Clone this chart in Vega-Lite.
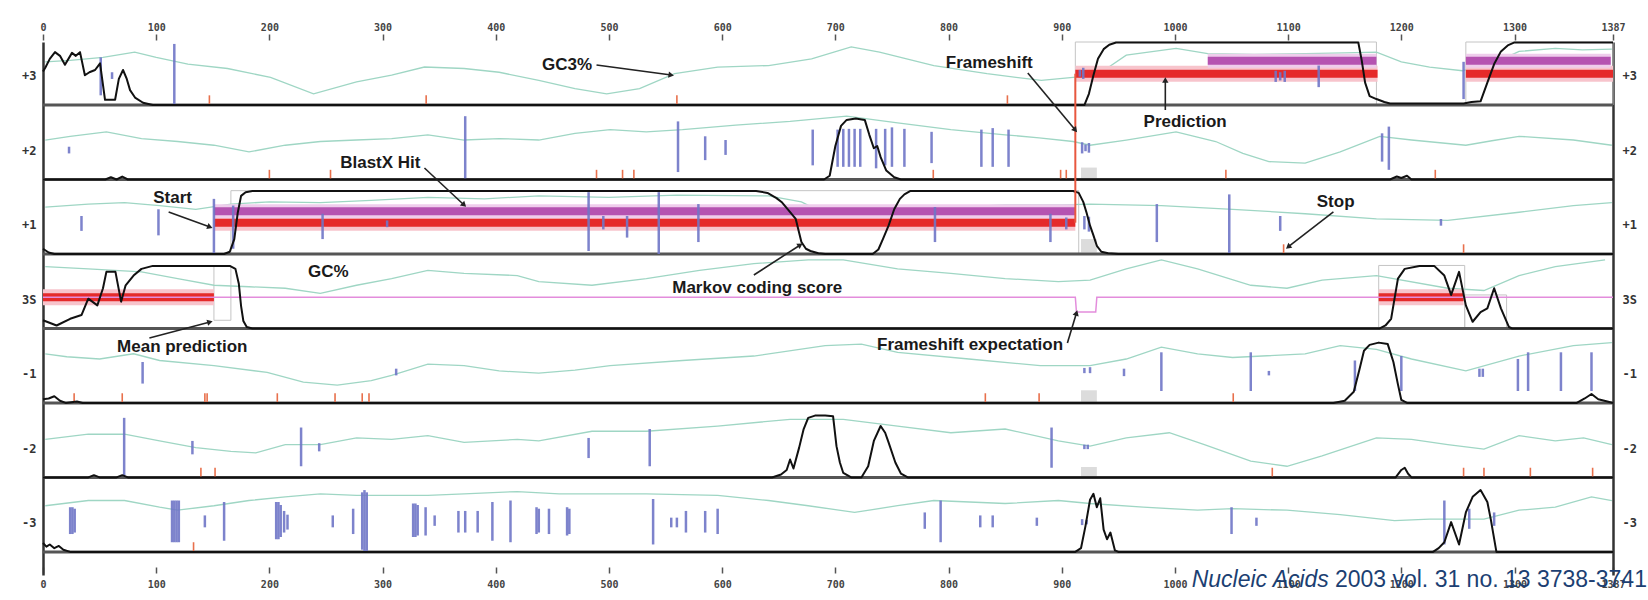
{
"$schema": "https://vega.github.io/schema/vega-lite/v6.json",
"width": 1570, "height": 533,
"autosize": {"type": "none"},
"padding": {"left": 43, "top": 42, "right": 35, "bottom": 25},
"background": "white",
"config": {"view": {"stroke": null}, "axis": {"grid": false}},
"datasets": {
"gc": [
{"f":"+3","x":2,"y":6.58},{"f":"+3","x":24,"y":6.60},{"f":"+3","x":53,"y":6.64},{"f":"+3","x":81,"y":6.71},{"f":"+3","x":100,"y":6.64},{"f":"+3","x":128,"y":6.55},{"f":"+3","x":163,"y":6.49},{"f":"+3","x":201,"y":6.37},{"f":"+3","x":239,"y":6.15},{"f":"+3","x":277,"y":6.31},{"f":"+3","x":308,"y":6.40},{"f":"+3","x":337,"y":6.51},{"f":"+3","x":372,"y":6.49},{"f":"+3","x":403,"y":6.44},{"f":"+3","x":438,"y":6.33},{"f":"+3","x":470,"y":6.22},{"f":"+3","x":498,"y":6.15},{"f":"+3","x":527,"y":6.22},{"f":"+3","x":558,"y":6.42},{"f":"+3","x":596,"y":6.51},{"f":"+3","x":641,"y":6.53},{"f":"+3","x":679,"y":6.62},{"f":"+3","x":714,"y":6.78},{"f":"+3","x":739,"y":6.71},{"f":"+3","x":787,"y":6.53},{"f":"+3","x":834,"y":6.42},{"f":"+3","x":882,"y":6.33},{"f":"+3","x":910,"y":6.37},{"f":"+3","x":931,"y":6.40},{"f":"+3","x":957,"y":6.67},{"f":"+3","x":1001,"y":6.76},{"f":"+3","x":1029,"y":6.69},{"f":"+3","x":1070,"y":6.68},{"f":"+3","x":1115,"y":6.69},{"f":"+3","x":1150,"y":6.70},{"f":"+3","x":1178,"y":6.71},{"f":"+3","x":1200,"y":6.58},{"f":"+3","x":1225,"y":6.51},{"f":"+3","x":1254,"y":6.46},{"f":"+3","x":1280,"y":6.55},{"f":"+3","x":1304,"y":6.72},{"f":"+3","x":1336,"y":6.76},{"f":"+3","x":1360,"y":6.74},{"f":"+3","x":1386,"y":6.75},
{"f":"+2","x":2,"y":5.53},{"f":"+2","x":24,"y":5.58},{"f":"+2","x":56,"y":5.64},{"f":"+2","x":87,"y":5.55},{"f":"+2","x":119,"y":5.51},{"f":"+2","x":151,"y":5.46},{"f":"+2","x":182,"y":5.37},{"f":"+2","x":214,"y":5.46},{"f":"+2","x":245,"y":5.51},{"f":"+2","x":277,"y":5.53},{"f":"+2","x":308,"y":5.55},{"f":"+2","x":340,"y":5.60},{"f":"+2","x":372,"y":5.53},{"f":"+2","x":403,"y":5.55},{"f":"+2","x":438,"y":5.53},{"f":"+2","x":470,"y":5.62},{"f":"+2","x":501,"y":5.67},{"f":"+2","x":533,"y":5.64},{"f":"+2","x":565,"y":5.67},{"f":"+2","x":612,"y":5.73},{"f":"+2","x":660,"y":5.78},{"f":"+2","x":710,"y":5.85},{"f":"+2","x":755,"y":5.76},{"f":"+2","x":802,"y":5.67},{"f":"+2","x":850,"y":5.60},{"f":"+2","x":880,"y":5.56},{"f":"+2","x":910,"y":5.51},{"f":"+2","x":925,"y":5.46},{"f":"+2","x":957,"y":5.53},{"f":"+2","x":1001,"y":5.64},{"f":"+2","x":1036,"y":5.51},{"f":"+2","x":1060,"y":5.35},{"f":"+2","x":1083,"y":5.24},{"f":"+2","x":1115,"y":5.22},{"f":"+2","x":1146,"y":5.37},{"f":"+2","x":1181,"y":5.58},{"f":"+2","x":1209,"y":5.53},{"f":"+2","x":1257,"y":5.46},{"f":"+2","x":1280,"y":5.52},{"f":"+2","x":1304,"y":5.58},{"f":"+2","x":1352,"y":5.53},{"f":"+2","x":1386,"y":5.46},
{"f":"+1","x":2,"y":4.63},{"f":"+1","x":40,"y":4.67},{"f":"+1","x":72,"y":4.69},{"f":"+1","x":103,"y":4.65},{"f":"+1","x":135,"y":4.60},{"f":"+1","x":166,"y":4.67},{"f":"+1","x":200,"y":4.70},{"f":"+1","x":245,"y":4.69},{"f":"+1","x":290,"y":4.72},{"f":"+1","x":340,"y":4.76},{"f":"+1","x":390,"y":4.74},{"f":"+1","x":438,"y":4.78},{"f":"+1","x":500,"y":4.76},{"f":"+1","x":560,"y":4.79},{"f":"+1","x":641,"y":4.78},{"f":"+1","x":670,"y":4.70},{"f":"+1","x":691,"y":4.54},{"f":"+1","x":720,"y":4.52},{"f":"+1","x":755,"y":4.55},{"f":"+1","x":790,"y":4.62},{"f":"+1","x":850,"y":4.66},{"f":"+1","x":900,"y":4.66},{"f":"+1","x":925,"y":4.67},{"f":"+1","x":988,"y":4.65},{"f":"+1","x":1051,"y":4.60},{"f":"+1","x":1115,"y":4.54},{"f":"+1","x":1178,"y":4.47},{"f":"+1","x":1241,"y":4.45},{"f":"+1","x":1304,"y":4.56},{"f":"+1","x":1352,"y":4.65},{"f":"+1","x":1386,"y":4.69},
{"f":"3S","x":2,"y":3.83},{"f":"3S","x":40,"y":3.80},{"f":"3S","x":87,"y":3.76},{"f":"3S","x":119,"y":3.67},{"f":"3S","x":151,"y":3.58},{"f":"3S","x":182,"y":3.56},{"f":"3S","x":214,"y":3.54},{"f":"3S","x":245,"y":3.47},{"f":"3S","x":277,"y":3.58},{"f":"3S","x":308,"y":3.67},{"f":"3S","x":340,"y":3.78},{"f":"3S","x":372,"y":3.74},{"f":"3S","x":419,"y":3.71},{"f":"3S","x":438,"y":3.63},{"f":"3S","x":485,"y":3.58},{"f":"3S","x":533,"y":3.67},{"f":"3S","x":580,"y":3.78},{"f":"3S","x":628,"y":3.87},{"f":"3S","x":676,"y":3.92},{"f":"3S","x":707,"y":3.92},{"f":"3S","x":755,"y":3.80},{"f":"3S","x":802,"y":3.74},{"f":"3S","x":850,"y":3.67},{"f":"3S","x":897,"y":3.63},{"f":"3S","x":925,"y":3.65},{"f":"3S","x":957,"y":3.80},{"f":"3S","x":988,"y":3.92},{"f":"3S","x":1020,"y":3.80},{"f":"3S","x":1067,"y":3.58},{"f":"3S","x":1099,"y":3.54},{"f":"3S","x":1130,"y":3.65},{"f":"3S","x":1178,"y":3.71},{"f":"3S","x":1241,"y":3.54},{"f":"3S","x":1273,"y":3.51},{"f":"3S","x":1304,"y":3.71},{"f":"3S","x":1336,"y":3.83},{"f":"3S","x":1380,"y":3.92},
{"f":"-1","x":2,"y":2.66},{"f":"-1","x":21,"y":2.62},{"f":"-1","x":50,"y":2.59},{"f":"-1","x":80,"y":2.66},{"f":"-1","x":103,"y":2.57},{"f":"-1","x":151,"y":2.50},{"f":"-1","x":198,"y":2.41},{"f":"-1","x":230,"y":2.28},{"f":"-1","x":260,"y":2.24},{"f":"-1","x":290,"y":2.30},{"f":"-1","x":308,"y":2.37},{"f":"-1","x":340,"y":2.52},{"f":"-1","x":372,"y":2.50},{"f":"-1","x":403,"y":2.43},{"f":"-1","x":438,"y":2.40},{"f":"-1","x":470,"y":2.44},{"f":"-1","x":501,"y":2.50},{"f":"-1","x":565,"y":2.57},{"f":"-1","x":628,"y":2.63},{"f":"-1","x":691,"y":2.77},{"f":"-1","x":723,"y":2.79},{"f":"-1","x":755,"y":2.68},{"f":"-1","x":818,"y":2.59},{"f":"-1","x":881,"y":2.50},{"f":"-1","x":925,"y":2.50},{"f":"-1","x":957,"y":2.59},{"f":"-1","x":988,"y":2.75},{"f":"-1","x":1020,"y":2.66},{"f":"-1","x":1051,"y":2.61},{"f":"-1","x":1115,"y":2.66},{"f":"-1","x":1146,"y":2.77},{"f":"-1","x":1178,"y":2.72},{"f":"-1","x":1209,"y":2.59},{"f":"-1","x":1257,"y":2.43},{"f":"-1","x":1304,"y":2.63},{"f":"-1","x":1352,"y":2.77},{"f":"-1","x":1386,"y":2.81},
{"f":"-2","x":2,"y":1.51},{"f":"-2","x":40,"y":1.58},{"f":"-2","x":72,"y":1.58},{"f":"-2","x":103,"y":1.49},{"f":"-2","x":135,"y":1.40},{"f":"-2","x":166,"y":1.35},{"f":"-2","x":188,"y":1.33},{"f":"-2","x":214,"y":1.44},{"f":"-2","x":245,"y":1.44},{"f":"-2","x":277,"y":1.53},{"f":"-2","x":308,"y":1.51},{"f":"-2","x":340,"y":1.56},{"f":"-2","x":372,"y":1.47},{"f":"-2","x":419,"y":1.51},{"f":"-2","x":438,"y":1.49},{"f":"-2","x":485,"y":1.62},{"f":"-2","x":533,"y":1.62},{"f":"-2","x":596,"y":1.69},{"f":"-2","x":660,"y":1.78},{"f":"-2","x":707,"y":1.78},{"f":"-2","x":755,"y":1.69},{"f":"-2","x":802,"y":1.60},{"f":"-2","x":850,"y":1.65},{"f":"-2","x":897,"y":1.49},{"f":"-2","x":925,"y":1.42},{"f":"-2","x":957,"y":1.53},{"f":"-2","x":995,"y":1.60},{"f":"-2","x":1026,"y":1.44},{"f":"-2","x":1067,"y":1.22},{"f":"-2","x":1099,"y":1.15},{"f":"-2","x":1130,"y":1.29},{"f":"-2","x":1178,"y":1.53},{"f":"-2","x":1209,"y":1.51},{"f":"-2","x":1241,"y":1.44},{"f":"-2","x":1273,"y":1.38},{"f":"-2","x":1304,"y":1.56},{"f":"-2","x":1336,"y":1.49},{"f":"-2","x":1361,"y":1.53},{"f":"-2","x":1386,"y":1.44},
{"f":"-3","x":2,"y":0.62},{"f":"-3","x":40,"y":0.69},{"f":"-3","x":72,"y":0.69},{"f":"-3","x":103,"y":0.60},{"f":"-3","x":119,"y":0.56},{"f":"-3","x":151,"y":0.62},{"f":"-3","x":182,"y":0.69},{"f":"-3","x":214,"y":0.74},{"f":"-3","x":245,"y":0.78},{"f":"-3","x":277,"y":0.76},{"f":"-3","x":308,"y":0.76},{"f":"-3","x":340,"y":0.76},{"f":"-3","x":372,"y":0.78},{"f":"-3","x":419,"y":0.81},{"f":"-3","x":456,"y":0.78},{"f":"-3","x":485,"y":0.78},{"f":"-3","x":533,"y":0.78},{"f":"-3","x":596,"y":0.76},{"f":"-3","x":641,"y":0.69},{"f":"-3","x":676,"y":0.62},{"f":"-3","x":717,"y":0.53},{"f":"-3","x":755,"y":0.62},{"f":"-3","x":787,"y":0.69},{"f":"-3","x":850,"y":0.65},{"f":"-3","x":897,"y":0.69},{"f":"-3","x":925,"y":0.65},{"f":"-3","x":972,"y":0.60},{"f":"-3","x":1020,"y":0.56},{"f":"-3","x":1051,"y":0.58},{"f":"-3","x":1099,"y":0.56},{"f":"-3","x":1146,"y":0.50},{"f":"-3","x":1194,"y":0.42},{"f":"-3","x":1225,"y":0.44},{"f":"-3","x":1273,"y":0.44},{"f":"-3","x":1304,"y":0.56},{"f":"-3","x":1336,"y":0.60},{"f":"-3","x":1368,"y":0.74},{"f":"-3","x":1386,"y":0.69}
],
"score": [
{"f":"+3","x":0,"y":6.45},{"f":"+3","x":2,"y":6.50},{"f":"+3","x":6,"y":6.62},{"f":"+3","x":10.6,"y":6.71},{"f":"+3","x":15,"y":6.66},{"f":"+3","x":19.4,"y":6.54},{"f":"+3","x":25.6,"y":6.70},{"f":"+3","x":29,"y":6.66},{"f":"+3","x":32.7,"y":6.71},{"f":"+3","x":37,"y":6.40},{"f":"+3","x":41,"y":6.44},{"f":"+3","x":46,"y":6.47},{"f":"+3","x":50.4,"y":6.56},{"f":"+3","x":54.8,"y":6.07},{"f":"+3","x":63.7,"y":6.07},{"f":"+3","x":67,"y":6.35},{"f":"+3","x":70.7,"y":6.47},{"f":"+3","x":74,"y":6.35},{"f":"+3","x":76.9,"y":6.2},{"f":"+3","x":81.3,"y":6.1},{"f":"+3","x":88.4,"y":6.03},{"f":"+3","x":97,"y":6.0},{"f":"+3","x":920,"y":6.0},{"f":"+3","x":924,"y":6.15},{"f":"+3","x":928,"y":6.4},{"f":"+3","x":932,"y":6.62},{"f":"+3","x":937,"y":6.75},{"f":"+3","x":942,"y":6.81},{"f":"+3","x":948,"y":6.84},{"f":"+3","x":1162,"y":6.84},{"f":"+3","x":1165,"y":6.6},{"f":"+3","x":1168,"y":6.3},{"f":"+3","x":1172,"y":6.12},{"f":"+3","x":1178,"y":6.08},{"f":"+3","x":1185,"y":6.04},{"f":"+3","x":1190,"y":6.02},{"f":"+3","x":1255,"y":6.02},{"f":"+3","x":1262,"y":6.04},{"f":"+3","x":1270,"y":6.05},{"f":"+3","x":1276,"y":6.3},{"f":"+3","x":1282,"y":6.55},{"f":"+3","x":1288,"y":6.72},{"f":"+3","x":1294,"y":6.8},{"f":"+3","x":1300,"y":6.84},{"f":"+3","x":1387,"y":6.84},
{"f":"+2","x":0,"y":5.0},{"f":"+2","x":55,"y":5.0},{"f":"+2","x":60,"y":5.03},{"f":"+2","x":65,"y":5.0},{"f":"+2","x":70,"y":5.04},{"f":"+2","x":75,"y":5.0},{"f":"+2","x":690,"y":5.0},{"f":"+2","x":695,"y":5.05},{"f":"+2","x":700,"y":5.45},{"f":"+2","x":705,"y":5.72},{"f":"+2","x":710,"y":5.8},{"f":"+2","x":718,"y":5.82},{"f":"+2","x":726,"y":5.8},{"f":"+2","x":730,"y":5.6},{"f":"+2","x":734,"y":5.42},{"f":"+2","x":737,"y":5.45},{"f":"+2","x":740,"y":5.3},{"f":"+2","x":745,"y":5.12},{"f":"+2","x":752,"y":5.03},{"f":"+2","x":758,"y":5.0},{"f":"+2","x":1190,"y":5.0},{"f":"+2","x":1196,"y":5.04},{"f":"+2","x":1200,"y":5.02},{"f":"+2","x":1205,"y":5.05},{"f":"+2","x":1209,"y":5.0},{"f":"+2","x":1387,"y":5.0},
{"f":"+1","x":0,"y":4.07},{"f":"+1","x":5,"y":4.02},{"f":"+1","x":10,"y":4.0},{"f":"+1","x":160,"y":4.0},{"f":"+1","x":165,"y":4.03},{"f":"+1","x":169,"y":4.2},{"f":"+1","x":172,"y":4.55},{"f":"+1","x":175,"y":4.78},{"f":"+1","x":179,"y":4.83},{"f":"+1","x":185,"y":4.845},{"f":"+1","x":630,"y":4.845},{"f":"+1","x":640,"y":4.82},{"f":"+1","x":648,"y":4.75},{"f":"+1","x":653,"y":4.69},{"f":"+1","x":658,"y":4.6},{"f":"+1","x":665,"y":4.47},{"f":"+1","x":670,"y":4.16},{"f":"+1","x":674,"y":4.07},{"f":"+1","x":678,"y":4.04},{"f":"+1","x":685,"y":4.01},{"f":"+1","x":691,"y":4.0},{"f":"+1","x":733,"y":4.0},{"f":"+1","x":738,"y":4.06},{"f":"+1","x":742,"y":4.2},{"f":"+1","x":747,"y":4.38},{"f":"+1","x":752,"y":4.6},{"f":"+1","x":757,"y":4.74},{"f":"+1","x":761,"y":4.8},{"f":"+1","x":766,"y":4.845},{"f":"+1","x":910,"y":4.845},{"f":"+1","x":915,"y":4.82},{"f":"+1","x":919,"y":4.7},{"f":"+1","x":922,"y":4.55},{"f":"+1","x":925,"y":4.38},{"f":"+1","x":928,"y":4.25},{"f":"+1","x":931,"y":4.11},{"f":"+1","x":935,"y":4.03},{"f":"+1","x":941,"y":4.01},{"f":"+1","x":950,"y":4.0},{"f":"+1","x":1387,"y":4.0},
{"f":"3S","x":0,"y":3.11},{"f":"3S","x":12,"y":3.04},{"f":"3S","x":24,"y":3.13},{"f":"3S","x":34,"y":3.18},{"f":"3S","x":40,"y":3.40},{"f":"3S","x":48,"y":3.31},{"f":"3S","x":53,"y":3.54},{"f":"3S","x":56,"y":3.76},{"f":"3S","x":64,"y":3.76},{"f":"3S","x":69,"y":3.36},{"f":"3S","x":73,"y":3.58},{"f":"3S","x":80,"y":3.71},{"f":"3S","x":87,"y":3.80},{"f":"3S","x":97,"y":3.84},{"f":"3S","x":165,"y":3.84},{"f":"3S","x":170,"y":3.80},{"f":"3S","x":173,"y":3.6},{"f":"3S","x":175,"y":3.3},{"f":"3S","x":177,"y":3.1},{"f":"3S","x":180,"y":3.02},{"f":"3S","x":185,"y":3.0},{"f":"3S","x":1181,"y":3.0},{"f":"3S","x":1186,"y":3.04},{"f":"3S","x":1191,"y":3.13},{"f":"3S","x":1194,"y":3.4},{"f":"3S","x":1197,"y":3.67},{"f":"3S","x":1203,"y":3.8},{"f":"3S","x":1216,"y":3.84},{"f":"3S","x":1229,"y":3.84},{"f":"3S","x":1238,"y":3.71},{"f":"3S","x":1244,"y":3.45},{"f":"3S","x":1251,"y":3.76},{"f":"3S","x":1257,"y":3.31},{"f":"3S","x":1263,"y":3.09},{"f":"3S","x":1270,"y":3.22},{"f":"3S","x":1276,"y":3.27},{"f":"3S","x":1282,"y":3.54},{"f":"3S","x":1288,"y":3.27},{"f":"3S","x":1295,"y":3.02},{"f":"3S","x":1298,"y":3.0},{"f":"3S","x":1387,"y":3.0},
{"f":"-1","x":0,"y":2.05},{"f":"-1","x":5,"y":2.06},{"f":"-1","x":10,"y":2.09},{"f":"-1","x":15,"y":2.03},{"f":"-1","x":20,"y":2.0},{"f":"-1","x":30,"y":2.02},{"f":"-1","x":35,"y":2.0},{"f":"-1","x":1140,"y":2.0},{"f":"-1","x":1150,"y":2.03},{"f":"-1","x":1158,"y":2.15},{"f":"-1","x":1163,"y":2.45},{"f":"-1","x":1167,"y":2.7},{"f":"-1","x":1172,"y":2.78},{"f":"-1","x":1180,"y":2.81},{"f":"-1","x":1188,"y":2.79},{"f":"-1","x":1193,"y":2.55},{"f":"-1","x":1197,"y":2.25},{"f":"-1","x":1200,"y":2.04},{"f":"-1","x":1205,"y":2.0},{"f":"-1","x":1355,"y":2.0},{"f":"-1","x":1362,"y":2.06},{"f":"-1","x":1368,"y":2.12},{"f":"-1","x":1374,"y":2.05},{"f":"-1","x":1382,"y":2.02},{"f":"-1","x":1387,"y":2.0},
{"f":"-2","x":0,"y":1.0},{"f":"-2","x":40,"y":1.0},{"f":"-2","x":45,"y":1.03},{"f":"-2","x":50,"y":1.0},{"f":"-2","x":65,"y":1.0},{"f":"-2","x":70,"y":1.03},{"f":"-2","x":75,"y":1.0},{"f":"-2","x":644,"y":1.0},{"f":"-2","x":652,"y":1.04},{"f":"-2","x":657,"y":1.1},{"f":"-2","x":660,"y":1.24},{"f":"-2","x":663,"y":1.12},{"f":"-2","x":668,"y":1.4},{"f":"-2","x":672,"y":1.65},{"f":"-2","x":676,"y":1.8},{"f":"-2","x":682,"y":1.83},{"f":"-2","x":691,"y":1.83},{"f":"-2","x":698,"y":1.82},{"f":"-2","x":701,"y":1.42},{"f":"-2","x":704,"y":1.2},{"f":"-2","x":707,"y":1.06},{"f":"-2","x":714,"y":1.0},{"f":"-2","x":723,"y":1.0},{"f":"-2","x":729,"y":1.15},{"f":"-2","x":734,"y":1.49},{"f":"-2","x":740,"y":1.69},{"f":"-2","x":744,"y":1.6},{"f":"-2","x":747,"y":1.47},{"f":"-2","x":753,"y":1.2},{"f":"-2","x":758,"y":1.05},{"f":"-2","x":764,"y":1.0},{"f":"-2","x":1195,"y":1.0},{"f":"-2","x":1200,"y":1.1},{"f":"-2","x":1203,"y":1.13},{"f":"-2","x":1206,"y":1.05},{"f":"-2","x":1209,"y":1.0},{"f":"-2","x":1387,"y":1.0},
{"f":"-3","x":0,"y":0.12},{"f":"-3","x":3,"y":0.07},{"f":"-3","x":6,"y":0.10},{"f":"-3","x":10,"y":0.05},{"f":"-3","x":14,"y":0.08},{"f":"-3","x":18,"y":0.03},{"f":"-3","x":24,"y":0.0},{"f":"-3","x":912,"y":0.0},{"f":"-3","x":917,"y":0.05},{"f":"-3","x":921,"y":0.35},{"f":"-3","x":925,"y":0.7},{"f":"-3","x":928,"y":0.78},{"f":"-3","x":931,"y":0.6},{"f":"-3","x":934,"y":0.72},{"f":"-3","x":937,"y":0.3},{"f":"-3","x":940,"y":0.17},{"f":"-3","x":943,"y":0.26},{"f":"-3","x":947,"y":0.02},{"f":"-3","x":950,"y":0.0},{"f":"-3","x":1228,"y":0.0},{"f":"-3","x":1233,"y":0.05},{"f":"-3","x":1238,"y":0.13},{"f":"-3","x":1244,"y":0.4},{"f":"-3","x":1251,"y":0.1},{"f":"-3","x":1257,"y":0.53},{"f":"-3","x":1263,"y":0.74},{"f":"-3","x":1270,"y":0.83},{"f":"-3","x":1276,"y":0.67},{"f":"-3","x":1279,"y":0.44},{"f":"-3","x":1284,"y":0.0},{"f":"-3","x":1387,"y":0.0}
],
"starts": [
{"x":51,"y":6.13,"y2":6.64},{"x":61,"y":6.35,"y2":6.44},{"x":116,"y":6.01,"y2":6.82},{"x":916,"y":6.38,"y2":6.47},{"x":919,"y":6.35,"y2":6.5},{"x":1089,"y":6.31,"y2":6.46},{"x":1093,"y":6.33,"y2":6.44},{"x":1097,"y":6.31,"y2":6.46},{"x":1127,"y":6.24,"y2":6.53},{"x":1255,"y":6.08,"y2":6.58},
{"x":23,"y":5.35,"y2":5.44},{"x":373,"y":5.01,"y2":5.85},{"x":561,"y":5.10,"y2":5.78},{"x":585,"y":5.26,"y2":5.58},{"x":603,"y":5.33,"y2":5.53},{"x":680,"y":5.19,"y2":5.67},{"x":702,"y":5.17,"y2":5.67},{"x":707,"y":5.17,"y2":5.68},{"x":712,"y":5.17,"y2":5.68},{"x":717,"y":5.17,"y2":5.68},{"x":722,"y":5.17,"y2":5.68},{"x":736,"y":5.15,"y2":5.68},{"x":744,"y":5.19,"y2":5.68},{"x":750,"y":5.17,"y2":5.70},{"x":761,"y":5.17,"y2":5.68},{"x":785,"y":5.22,"y2":5.64},{"x":829,"y":5.17,"y2":5.67},{"x":839,"y":5.17,"y2":5.69},{"x":853,"y":5.17,"y2":5.67},{"x":918,"y":5.35,"y2":5.50},{"x":921,"y":5.38,"y2":5.47},{"x":924,"y":5.36,"y2":5.49},{"x":1183,"y":5.24,"y2":5.62},{"x":1189,"y":5.13,"y2":5.71},
{"x":34,"y":4.31,"y2":4.51},{"x":102,"y":4.25,"y2":4.60},{"x":151,"y":4.0,"y2":4.74},{"x":168,"y":4.07,"y2":4.65},{"x":247,"y":4.20,"y2":4.54},{"x":304,"y":4.36,"y2":4.45},{"x":482,"y":4.04,"y2":4.83},{"x":495,"y":4.33,"y2":4.51},{"x":516,"y":4.22,"y2":4.51},{"x":544,"y":4.0,"y2":4.83},{"x":579,"y":4.16,"y2":4.67},{"x":788,"y":4.16,"y2":4.63},{"x":890,"y":4.16,"y2":4.54},{"x":904,"y":4.33,"y2":4.49},{"x":920,"y":4.33,"y2":4.51},{"x":924,"y":4.30,"y2":4.50},{"x":984,"y":4.16,"y2":4.67},{"x":1048,"y":4.0,"y2":4.80},{"x":1093,"y":4.31,"y2":4.51},{"x":1235,"y":4.38,"y2":4.47},
{"x":88,"y":2.26,"y2":2.55},{"x":312,"y":2.37,"y2":2.46},{"x":920,"y":2.40,"y2":2.47},{"x":925,"y":2.40,"y2":2.48},{"x":955,"y":2.36,"y2":2.46},{"x":988,"y":2.16,"y2":2.68},{"x":1067,"y":2.16,"y2":2.68},{"x":1083,"y":2.37,"y2":2.43},{"x":1159,"y":2.16,"y2":2.57},{"x":1200,"y":2.16,"y2":2.63},{"x":1269,"y":2.35,"y2":2.46},{"x":1272,"y":2.35,"y2":2.46},{"x":1303,"y":2.16,"y2":2.59},{"x":1312,"y":2.16,"y2":2.68},{"x":1341,"y":2.16,"y2":2.68},{"x":1368,"y":2.16,"y2":2.68},
{"x":71.7,"y":1.01,"y2":1.80},{"x":132,"y":1.31,"y2":1.49},{"x":228,"y":1.15,"y2":1.67},{"x":244,"y":1.35,"y2":1.46},{"x":482,"y":1.26,"y2":1.53},{"x":536,"y":1.15,"y2":1.65},{"x":891,"y":1.13,"y2":1.67},{"x":920,"y":1.38,"y2":1.44},{"x":923,"y":1.38,"y2":1.44},
{"x":24,"y":0.24,"y2":0.6},{"x":26,"y":0.24,"y2":0.6},{"x":28,"y":0.26,"y2":0.58},{"x":114,"y":0.13,"y2":0.69},{"x":116,"y":0.13,"y2":0.69},{"x":118,"y":0.13,"y2":0.69},{"x":120,"y":0.13,"y2":0.69},{"x":143,"y":0.33,"y2":0.49},{"x":160,"y":0.15,"y2":0.67},{"x":206,"y":0.17,"y2":0.67},{"x":208,"y":0.17,"y2":0.67},{"x":210,"y":0.2,"y2":0.63},{"x":213,"y":0.26,"y2":0.55},{"x":216,"y":0.3,"y2":0.5},{"x":256,"y":0.33,"y2":0.49},{"x":274,"y":0.24,"y2":0.58},{"x":282,"y":0.03,"y2":0.80},{"x":284,"y":0.0,"y2":0.83},{"x":286,"y":0.0,"y2":0.8},{"x":327,"y":0.2,"y2":0.65},{"x":329,"y":0.2,"y2":0.65},{"x":331,"y":0.22,"y2":0.63},{"x":338,"y":0.22,"y2":0.6},{"x":346,"y":0.35,"y2":0.49},{"x":367,"y":0.26,"y2":0.55},{"x":373,"y":0.26,"y2":0.55},{"x":384,"y":0.26,"y2":0.55},{"x":397,"y":0.15,"y2":0.67},{"x":413,"y":0.13,"y2":0.69},{"x":436,"y":0.24,"y2":0.6},{"x":438,"y":0.26,"y2":0.58},{"x":447,"y":0.24,"y2":0.58},{"x":463,"y":0.22,"y2":0.6},{"x":465,"y":0.24,"y2":0.58},{"x":539,"y":0.1,"y2":0.71},{"x":555,"y":0.33,"y2":0.46},{"x":560,"y":0.33,"y2":0.46},{"x":568,"y":0.26,"y2":0.55},{"x":585,"y":0.26,"y2":0.55},{"x":596,"y":0.24,"y2":0.58},{"x":779,"y":0.31,"y2":0.53},{"x":793,"y":0.13,"y2":0.69},{"x":828,"y":0.33,"y2":0.49},{"x":839,"y":0.33,"y2":0.49},{"x":878,"y":0.35,"y2":0.46},{"x":918,"y":0.36,"y2":0.44},{"x":922,"y":0.37,"y2":0.43},{"x":1050,"y":0.24,"y2":0.6},{"x":1072,"y":0.35,"y2":0.46},{"x":1238,"y":0.1,"y2":0.69},{"x":1260,"y":0.31,"y2":0.58},{"x":1282,"y":0.35,"y2":0.53}
],
"stops": [
{"x":147,"y":6,"y2":6.13},{"x":338.5,"y":6,"y2":6.13},{"x":560,"y":6,"y2":6.13},{"x":852,"y":6,"y2":6.13},
{"x":200,"y":5,"y2":5.13},{"x":254,"y":5,"y2":5.13},{"x":489,"y":5,"y2":5.13},{"x":512,"y":5,"y2":5.13},{"x":522,"y":5,"y2":5.13},{"x":786.5,"y":5,"y2":5.13},{"x":899,"y":5,"y2":5.13},{"x":904,"y":5,"y2":5.13},{"x":1045,"y":5,"y2":5.13},{"x":1230,"y":5,"y2":5.13},
{"x":1096,"y":4,"y2":4.13},{"x":1255,"y":4,"y2":4.13},
{"x":27.5,"y":2,"y2":2.13},{"x":70,"y":2,"y2":2.13},{"x":143,"y":2,"y2":2.13},{"x":145,"y":2,"y2":2.13},{"x":207,"y":2,"y2":2.13},{"x":258,"y":2,"y2":2.13},{"x":282,"y":2,"y2":2.13},{"x":288,"y":2,"y2":2.13},{"x":832.5,"y":2,"y2":2.13},{"x":880,"y":2,"y2":2.13},{"x":1051.5,"y":2,"y2":2.13},
{"x":139.5,"y":1,"y2":1.13},{"x":152,"y":1,"y2":1.13},{"x":1086,"y":1,"y2":1.13},{"x":1255,"y":1,"y2":1.13},{"x":1273,"y":1,"y2":1.13},{"x":1314,"y":1,"y2":1.13},{"x":1369,"y":1,"y2":1.13},
{"x":133,"y":0,"y2":0.13}
],
"pred": [
{"x":912,"x2":1179,"y":6.42},{"x":1257,"x2":1387,"y":6.42},{"x":151,"x2":912,"y":4.42},{"x":0,"x2":151,"y":3.42},{"x":1180,"x2":1255,"y":3.42}
],
"blast": [
{"x":1029,"x2":1178,"y":6.595},{"x":1257,"x2":1385,"y":6.595},{"x":151,"x2":912,"y":4.575}
],
"boxes": [
{"x":912,"x2":1178,"y":6,"y2":6.846},{"x":1257,"x2":1387,"y":6,"y2":6.846},{"x":166,"x2":915,"y":4,"y2":4.85},{"x":151,"x2":166,"y":3.11,"y2":3.84},{"x":1180,"x2":1256,"y":3,"y2":3.846},{"x":1256,"x2":1293,"y":3,"y2":3.45}
],
"gboxes": [
{"x":917,"x2":931,"y":5.01,"y2":5.16},{"x":917,"x2":931,"y":4.02,"y2":4.2},{"x":917,"x2":931,"y":2.01,"y2":2.17},{"x":917,"x2":931,"y":1.01,"y2":1.14}
],
"baselines": [{"y":0},{"y":1},{"y":2},{"y":3},{"y":4},{"y":5},{"y":6}],
"pink": [{"x":0,"y":3.42},{"x":912,"y":3.42},{"x":913,"y":3.22},{"x":930,"y":3.22},{"x":931,"y":3.42},{"x":1387,"y":3.42}],
"fs": [{"x":912,"y":4.42,"y2":6.42}],
"arrows": [
{"x":489,"y":6.537,"x2":555,"y2":6.403,"a":98},{"x":870,"y":6.43,"x2":912,"y2":5.664,"a":140},{"x":991.5,"y":5.933,"x2":991.5,"y2":6.336,"a":0},{"x":337,"y":5.154,"x2":372,"y2":4.658,"a":133},{"x":111,"y":4.564,"x2":147.5,"y2":4.362,"a":110},{"x":1140,"y":4.564,"x2":1100,"y2":4.094,"a":232},{"x":628,"y":3.718,"x2":669,"y2":4.121,"a":57},{"x":94,"y":2.872,"x2":147.5,"y2":3.087,"a":75},{"x":905,"y":2.805,"x2":913,"y2":3.208,"a":17}
],
"annot": [
{"t":"GC3%","x":463,"y":6.537},{"t":"Frameshift","x":836,"y":6.564},{"t":"Prediction","x":1009,"y":5.772},{"t":"BlastX Hit","x":298,"y":5.221},{"t":"Start","x":114.5,"y":4.752},{"t":"Stop","x":1142,"y":4.698},{"t":"GC%","x":252,"y":3.758},{"t":"Markov coding score","x":631,"y":3.544},{"t":"Mean prediction","x":123,"y":2.752},{"t":"Frameshift expectation","x":819,"y":2.779}
]
},
"layer": [
{"data": {"name": "boxes"}, "mark": {"type": "rect", "filled": false, "stroke": "#c4c4c4", "strokeWidth": 1, "clip": false},
 "encoding": {"x": {"field": "x", "type": "quantitative", "scale": {"domain": [0, 1387], "nice": false, "zero": false}, "axis": null}, "x2": {"field": "x2"},
  "y": {"field": "y", "type": "quantitative", "scale": {"domain": [-0.31, 6.846], "nice": false, "zero": false}, "axis": null}, "y2": {"field": "y2"}}},
{"data": {"name": "gboxes"}, "mark": {"type": "rect", "color": "#dcdcdc"},
 "encoding": {"x": {"field": "x", "type": "quantitative", "scale": {"domain": [0, 1387], "nice": false, "zero": false}, "axis": null}, "x2": {"field": "x2"},
  "y": {"field": "y", "type": "quantitative", "scale": {"domain": [-0.31, 6.846], "nice": false, "zero": false}, "axis": null}, "y2": {"field": "y2"}}},
{"data": {"name": "baselines"}, "mark": {"type": "rule", "color": "#555555", "strokeWidth": 3},
 "encoding": {"y": {"field": "y", "type": "quantitative", "scale": {"domain": [-0.31, 6.846], "nice": false, "zero": false}, "axis": null}}},
{"data": {"name": "gc"}, "mark": {"type": "line", "color": "#9fd6c4", "strokeWidth": 1.3},
 "encoding": {
  "x": {"field": "x", "type": "quantitative", "scale": {"domain": [0, 1387], "nice": false, "zero": false},
   "axis": {"orient": "top", "values": [0,100,200,300,400,500,600,700,800,900,1000,1100,1200,1300,1387], "format": "d", "domain": false, "tickSize": 6, "tickColor": "#555555", "tickWidth": 1.5, "offset": 2, "labelFont": "DejaVu Sans Mono", "labelFontSize": 10, "labelFontWeight": "bold", "labelColor": "#444444", "labelPadding": 2, "labelFlush": false, "title": null}},
  "y": {"field": "y", "type": "quantitative", "scale": {"domain": [-0.31, 6.846], "nice": false, "zero": false},
   "axis": {"orient": "left", "values": [0.39,1.39,2.39,3.39,4.39,5.39,6.39], "labelExpr": "datum.value < 1 ? '-3' : datum.value < 2 ? '-2' : datum.value < 3 ? '-1' : datum.value < 4 ? '3S' : datum.value < 5 ? '+1' : datum.value < 6 ? '+2' : '+3'", "domain": true, "domainColor": "#333333", "domainWidth": 2.5, "ticks": false, "labelFont": "DejaVu Sans Mono", "labelFontSize": 12, "labelFontWeight": "bold", "labelColor": "#333333", "labelPadding": 7, "title": null}},
  "detail": {"field": "f", "type": "nominal"}}},
{"data": {"name": "pred"}, "mark": {"type": "rule", "color": "#f7c4cc", "strokeWidth": 16},
 "encoding": {"x": {"field": "x", "type": "quantitative", "scale": {"domain": [0, 1387], "nice": false, "zero": false}, "axis": null}, "x2": {"field": "x2"},
  "y": {"field": "y", "type": "quantitative", "scale": {"domain": [-0.31, 6.846], "nice": false, "zero": false}, "axis": null}}},
{"data": {"name": "blast"}, "mark": {"type": "rule", "color": "#efcdec", "strokeWidth": 14},
 "encoding": {"x": {"field": "x", "type": "quantitative", "scale": {"domain": [0, 1387], "nice": false, "zero": false}, "axis": null}, "x2": {"field": "x2"},
  "y": {"field": "y", "type": "quantitative", "scale": {"domain": [-0.31, 6.846], "nice": false, "zero": false}, "axis": null}}},
{"data": {"name": "blast"}, "mark": {"type": "rule", "color": "#b553b1", "strokeWidth": 8},
 "encoding": {"x": {"field": "x", "type": "quantitative", "scale": {"domain": [0, 1387], "nice": false, "zero": false}, "axis": null}, "x2": {"field": "x2"},
  "y": {"field": "y", "type": "quantitative", "scale": {"domain": [-0.31, 6.846], "nice": false, "zero": false}, "axis": null}}},
{"data": {"name": "pred"}, "mark": {"type": "rule", "color": "#e52a2a", "strokeWidth": 8},
 "encoding": {"x": {"field": "x", "type": "quantitative", "scale": {"domain": [0, 1387], "nice": false, "zero": false}, "axis": null}, "x2": {"field": "x2"},
  "y": {"field": "y", "type": "quantitative", "scale": {"domain": [-0.31, 6.846], "nice": false, "zero": false}, "axis": null}}},
{"data": {"name": "pink"}, "mark": {"type": "line", "color": "#e38ddc", "strokeWidth": 1.5},
 "encoding": {"x": {"field": "x", "type": "quantitative", "scale": {"domain": [0, 1387], "nice": false, "zero": false}, "axis": null},
  "y": {"field": "y", "type": "quantitative", "scale": {"domain": [-0.31, 6.846], "nice": false, "zero": false}, "axis": null}}},
{"data": {"name": "starts"}, "mark": {"type": "rule", "color": "#6f75c6", "strokeWidth": 2.5, "opacity": 0.9},
 "encoding": {"x": {"field": "x", "type": "quantitative", "scale": {"domain": [0, 1387], "nice": false, "zero": false}, "axis": null},
  "y": {"field": "y", "type": "quantitative", "scale": {"domain": [-0.31, 6.846], "nice": false, "zero": false}, "axis": null}, "y2": {"field": "y2"}}},
{"data": {"name": "stops"}, "mark": {"type": "rule", "color": "#e8704c", "strokeWidth": 1.6},
 "encoding": {"x": {"field": "x", "type": "quantitative", "scale": {"domain": [0, 1387], "nice": false, "zero": false}, "axis": null},
  "y": {"field": "y", "type": "quantitative", "scale": {"domain": [-0.31, 6.846], "nice": false, "zero": false}, "axis": null}, "y2": {"field": "y2"}}},
{"data": {"name": "score"}, "mark": {"type": "line", "color": "#111111", "strokeWidth": 2, "strokeJoin": "round", "clip": false},
 "encoding": {
  "x": {"field": "x", "type": "quantitative", "scale": {"domain": [0, 1387], "nice": false, "zero": false},
   "axis": {"orient": "bottom", "values": [0,100,200,300,400,500,600,700,800,900,1000,1100,1200,1300,1387], "format": "d", "domain": false, "tickSize": 6, "tickColor": "#555555", "tickWidth": 1.5, "offset": -8, "labelFont": "DejaVu Sans Mono", "labelFontSize": 10, "labelFontWeight": "bold", "labelColor": "#444444", "labelPadding": 6, "labelFlush": false, "title": null}},
  "y": {"field": "y", "type": "quantitative", "scale": {"domain": [-0.31, 6.846], "nice": false, "zero": false},
   "axis": {"orient": "right", "values": [0.39,1.39,2.39,3.39,4.39,5.39,6.39], "labelExpr": "datum.value < 1 ? '-3' : datum.value < 2 ? '-2' : datum.value < 3 ? '-1' : datum.value < 4 ? '3S' : datum.value < 5 ? '+1' : datum.value < 6 ? '+2' : '+3'", "domain": true, "domainColor": "#333333", "domainWidth": 2.5, "ticks": false, "labelFont": "DejaVu Sans Mono", "labelFontSize": 12, "labelFontWeight": "bold", "labelColor": "#333333", "labelPadding": 9, "title": null}},
  "detail": {"field": "f", "type": "nominal"}}},
{"data": {"name": "fs"}, "mark": {"type": "rule", "color": "#e8573f", "strokeWidth": 2},
 "encoding": {"x": {"field": "x", "type": "quantitative", "scale": {"domain": [0, 1387], "nice": false, "zero": false}, "axis": null},
  "y": {"field": "y", "type": "quantitative", "scale": {"domain": [-0.31, 6.846], "nice": false, "zero": false}, "axis": null}, "y2": {"field": "y2"}}},
{"data": {"name": "arrows"}, "mark": {"type": "rule", "color": "#222222", "strokeWidth": 1.6},
 "encoding": {"x": {"field": "x", "type": "quantitative", "scale": {"domain": [0, 1387], "nice": false, "zero": false}, "axis": null}, "x2": {"field": "x2"},
  "y": {"field": "y", "type": "quantitative", "scale": {"domain": [-0.31, 6.846], "nice": false, "zero": false}, "axis": null}, "y2": {"field": "y2"}}},
{"data": {"name": "arrows"}, "mark": {"type": "point", "shape": "triangle-up", "filled": true, "color": "#222222", "size": 40, "opacity": 1},
 "encoding": {"x": {"field": "x2", "type": "quantitative", "scale": {"domain": [0, 1387], "nice": false, "zero": false}, "axis": null},
  "y": {"field": "y2", "type": "quantitative", "scale": {"domain": [-0.31, 6.846], "nice": false, "zero": false}, "axis": null},
  "angle": {"field": "a", "type": "quantitative", "scale": null}}},
{"data": {"name": "annot"}, "mark": {"type": "text", "font": "Liberation Sans", "fontSize": 17, "fontWeight": "bold", "color": "#1a1a1a", "align": "center", "baseline": "middle"},
 "encoding": {"x": {"field": "x", "type": "quantitative", "scale": {"domain": [0, 1387], "nice": false, "zero": false}, "axis": null},
  "y": {"field": "y", "type": "quantitative", "scale": {"domain": [-0.31, 6.846], "nice": false, "zero": false}, "axis": null},
  "text": {"field": "t"}}},
{"data": {"values": [{"t": "Nucleic Acids", "x": 1136, "y": -0.376}]}, "mark": {"type": "text", "font": "Liberation Sans", "fontSize": 23, "fontStyle": "italic", "color": "#1c3f72", "align": "right", "baseline": "middle", "clip": false},
 "encoding": {"x": {"field": "x", "type": "quantitative", "scale": {"domain": [0, 1387], "nice": false, "zero": false}, "axis": null},
  "y": {"field": "y", "type": "quantitative", "scale": {"domain": [-0.31, 6.846], "nice": false, "zero": false}, "axis": null},
  "text": {"field": "t"}}},
{"data": {"values": [{"t": "2003 vol. 31 no. 13 3738-3741", "x": 1417, "y": -0.376}]}, "mark": {"type": "text", "font": "Liberation Sans", "fontSize": 23, "color": "#1c3f72", "align": "right", "baseline": "middle", "clip": false},
 "encoding": {"x": {"field": "x", "type": "quantitative", "scale": {"domain": [0, 1387], "nice": false, "zero": false}, "axis": null},
  "y": {"field": "y", "type": "quantitative", "scale": {"domain": [-0.31, 6.846], "nice": false, "zero": false}, "axis": null},
  "text": {"field": "t"}}}
],
"resolve": {"axis": {"x": "independent", "y": "independent"}}
}
